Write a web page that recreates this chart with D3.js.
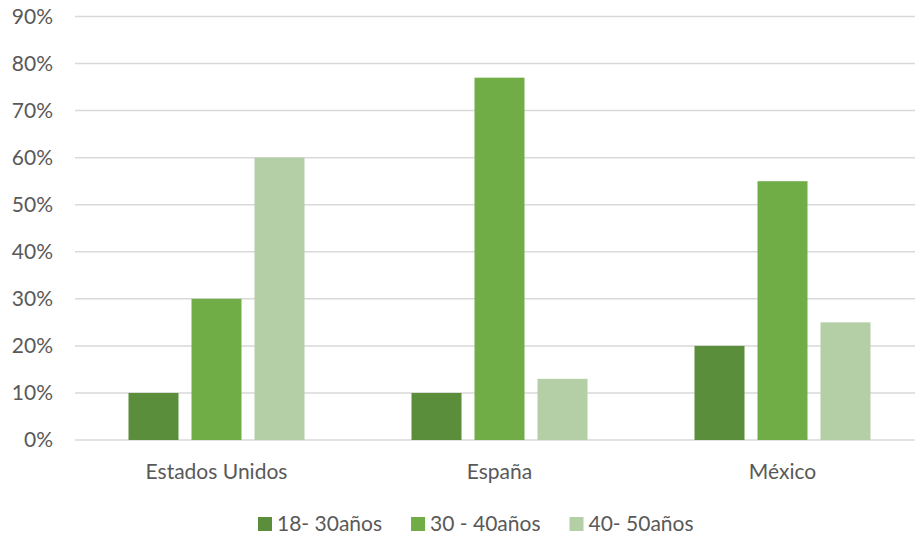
<!DOCTYPE html>
<html>
<head>
    <meta charset="utf-8">
    <title>Edades por país</title>
    <script src="https://cdn.jsdelivr.net/npm/d3@7"></script>
    <style>
        body { margin: 0; background: #fff; }
        text { font-family: Lato, "Open Sans", sans-serif; fill: #595959; }
    </style>
</head>
<body>
    <script>
        var categories = ["Estados Unidos", "España", "México"];
        var series = ["18- 30años", "30 - 40años", "40- 50años"];
        var values = [
            [0.10, 0.30, 0.60],   // Estados Unidos
            [0.10, 0.77, 0.13],   // España
            [0.20, 0.55, 0.25]    // México
        ];
        var yTicks = [0, 0.1, 0.2, 0.3, 0.4, 0.5, 0.6, 0.7, 0.8, 0.9];
        var colors = ["#5b8e3a", "#70ad47", "#b4cfa6"];

        var width = 915, height = 540;
        var plotLeft = 75, plotRight = 924, plotBottom = 440, plotTop = 16.5;
        var fontSize = 21;

        var svg = d3.select("body").append("svg")
            .attr("width", width)
            .attr("height", height);

        var x0 = d3.scaleBand()
            .domain(categories)
            .range([plotLeft, plotRight]);   // last band runs a bit past the edge

        var bw = x0.bandwidth();
        var x1 = d3.scaleBand()
            .domain(series)
            .range([bw / 2 - 88, bw / 2 + 88])
            .paddingInner(13 / 63);

        var y = d3.scaleLinear()
            .domain([0, 0.9])
            .range([plotBottom, plotTop]);

        // gridlines
        svg.append("g")
            .selectAll("line")
            .data(yTicks)
            .enter()
            .append("line")
            .attr("x1", plotLeft)
            .attr("x2", width)
            .attr("y1", function(d) { return y(d); })
            .attr("y2", function(d) { return y(d); })
            .attr("stroke", "#d9d9d9")
            .attr("stroke-width", 1.5);

        // y labels
        var yAxis = d3.axisLeft(y)
            .tickValues(yTicks)
            .tickFormat(d3.format(".0%"))
            .tickSize(0)
            .tickPadding(0);

        svg.append("g")
            .attr("transform", "translate(53,0)")
            .call(yAxis)
            .call(function(g) { g.select(".domain").remove(); })
            .selectAll("text")
            .attr("font-size", fontSize)
            .attr("font-family", null)
            .attr("fill", null);

        // bars
        var groups = svg.append("g")
            .selectAll("g")
            .data(categories)
            .enter()
            .append("g")
            .attr("transform", function(d) { return "translate(" + x0(d) + ",0)"; });

        groups.selectAll("rect")
            .data(function(d, i) {
                return values[i].map(function(v, j) { return {s: series[j], v: v, c: colors[j]}; });
            })
            .enter()
            .append("rect")
            .attr("x", function(d) { return x1(d.s); })
            .attr("width", x1.bandwidth())
            .attr("y", function(d) { return y(d.v); })
            .attr("height", function(d) { return plotBottom - y(d.v); })
            .attr("fill", function(d) { return d.c; });

        // x labels
        var xAxis = d3.axisBottom(x0).tickSize(0).tickPadding(0);
        svg.append("g")
            .attr("transform", "translate(0,464)")
            .call(xAxis)
            .call(function(g) { g.select(".domain").remove(); })
            .selectAll("text")
            .attr("font-size", fontSize)
            .attr("font-family", null)
            .attr("fill", null);

        // legend
        var legend = svg.append("g");
        var lx = 258;
        series.forEach(function(s, i) {
            legend.append("rect")
                .attr("x", lx)
                .attr("y", 517)
                .attr("width", 14)
                .attr("height", 14)
                .attr("fill", colors[i]);
            var t = legend.append("text")
                .attr("x", lx + 19)
                .attr("y", 531)
                .attr("font-size", fontSize)
                .text(s);
            lx += 19 + t.node().getComputedTextLength() + 29;
        });
    </script>
</body>
</html>
